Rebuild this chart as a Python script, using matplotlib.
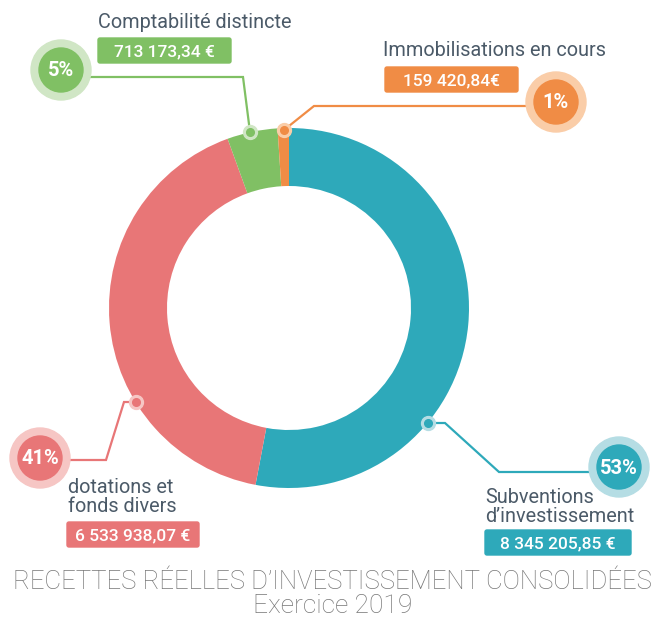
import matplotlib
matplotlib.use('Agg')
import matplotlib.pyplot as plt
from matplotlib.patches import Circle, FancyBboxPatch

# data
labels = ['Subventions\nd\u2019investissement', 'dotations et\nfonds divers',
          'Comptabilité distincte', 'Immobilisations en cours']
values = [8345205.85, 6533938.07, 713173.34, 159420.84]
amount_labels = ['8 345 205,85 €', '6 533 938,07 €', '713 173,34 €', '159 420,84€']
colors = ['#2EA9BA', '#E87677', '#80C064', '#F08C45']
light = ['#B5DDE4', '#F6C6C4', '#D0E6C5', '#FACDA8']

W, H = 665, 627
def Y(p):
    return H - p

plt.rcParams['font.family'] = ['Roboto', 'DejaVu Sans']
fig = plt.figure(figsize=(W / 100, H / 100), dpi=100)
ax = fig.add_axes([0, 0, 1, 1])

ax.pie(values, colors=colors, startangle=90, counterclock=False,
       radius=180, center=(289, Y(308)),
       wedgeprops=dict(width=58, edgecolor='none'))

ax.set_xlim(0, W)
ax.set_ylim(0, H)
ax.set_aspect('equal')
ax.axis('off')

total = sum(values)
pcts = ['%d%%' % round(v / total * 100) for v in values]

# layout of each callout: leader path, percent bubble, label pos, value box
layout = [
    dict(path=[(428, 423), (445, 423), (499, 472), (590, 472)], bubble=(619, 467),
         text=(485, 507), box=(485, 530, 146, 25)),
    dict(path=[(136, 402), (124, 402), (106, 460), (68, 460)], bubble=(40, 458),
         text=(68, 497), box=(67, 522, 132, 25)),
    dict(path=[(250, 132), (243, 77), (90, 77)], bubble=(61, 70),
         text=(98, 22), box=(98, 38, 133, 25)),
    dict(path=[(284, 130), (314, 106), (527, 106)], bubble=(556, 102),
         text=(383, 51), box=(385, 67, 133, 25)),
]

txt_col = '#4B5A68'
for i, lay in enumerate(layout):
    xs = [p[0] for p in lay['path']]
    ys = [Y(p[1]) for p in lay['path']]
    ax.plot(xs, ys, color=colors[i], lw=1.6, zorder=3, solid_joinstyle='miter')
    ax.plot(xs[0], ys[0], 'o', ms=10, color=light[i], zorder=4)
    ax.plot(xs[0], ys[0], 'o', ms=5.5, color=colors[i], zorder=5)
    bx, by = lay['bubble']
    ax.add_patch(Circle((bx, Y(by)), 30, color=light[i], zorder=4))
    ax.add_patch(Circle((bx, Y(by)), 22, color=colors[i], zorder=5))
    ax.text(bx, Y(by) - 1, pcts[i], color='white', fontsize=14.5, fontweight='bold',
            ha='center', va='center', zorder=6)
    tx, ty = lay['text']
    ax.text(tx, Y(ty), labels[i], color=txt_col, fontsize=14.3, fontweight='normal',
            ha='left', va='center', linespacing=0.95, zorder=6)
    x0, y0, w, h = lay['box']
    ax.add_patch(FancyBboxPatch((x0, Y(y0 + h)), w, h, boxstyle='round,pad=0,rounding_size=2',
                                color=colors[i], zorder=5))
    ax.text(x0 + w / 2, Y(y0 + h / 2) - 1, amount_labels[i], color='white', fontsize=12.5,
            fontweight='medium', ha='center', va='center', zorder=6)

ax.text(W / 2, Y(582), 'RECETTES RÉELLES D\u2019INVESTISSEMENT CONSOLIDÉES', color='#777777',
        fontsize=18.5, fontweight='light', ha='center', va='center')
ax.text(W / 2, Y(606), 'Exercice 2019', color='#777777', fontsize=19, fontweight='light',
        ha='center', va='center')

fig.savefig('out.png', dpi=100)
